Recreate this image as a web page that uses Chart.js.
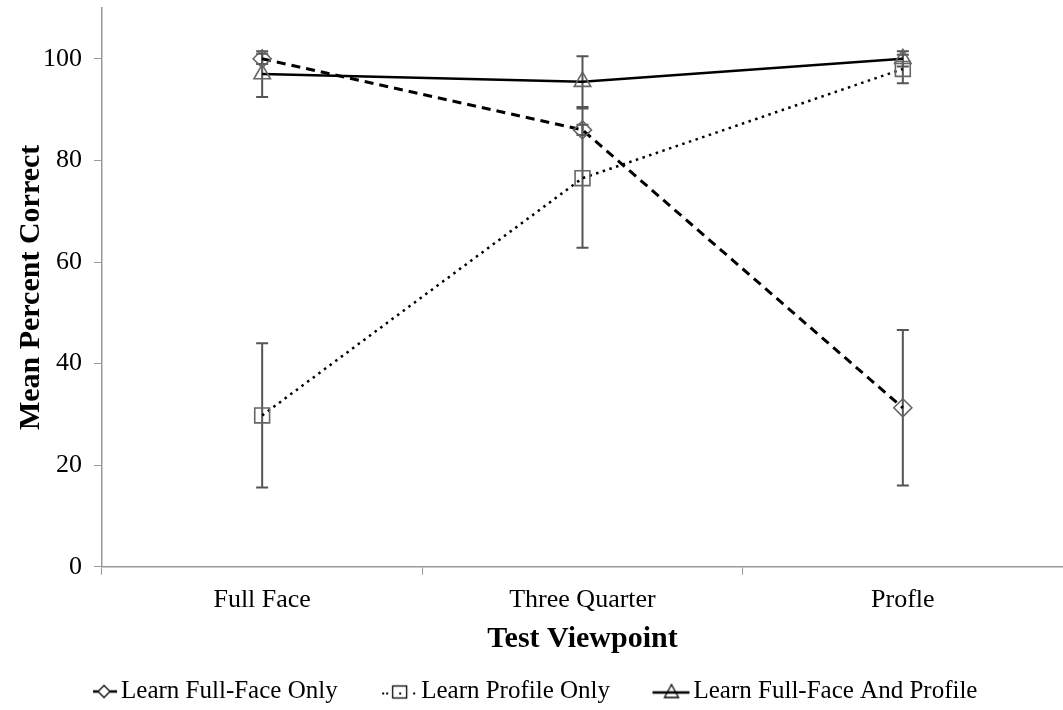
<!DOCTYPE html>
<html>
<head>
<meta charset="utf-8">
<script src="https://cdn.jsdelivr.net/npm/chart.js@4"></script>
<style>
  body { margin: 0; background: #fff; overflow: hidden; }
  #wrap { width: 1063px; height: 710px; }
  canvas { display: block; }
</style>
</head>
<body>
<div id="wrap"><canvas id="viewChart"></canvas></div>
<script>
const viewpoints = ['Full Face', 'Three Quarter', 'Profle'];

const fullFaceOnly = [100, 86, 31.3];
const fullFaceOnlyErr = [1, 1, 15.3];

const profileOnly = [29.8, 76.5, 98];
const profileOnlyErr = [14.2, 13.7, 2.8];

const fullFaceAndProfile = [97, 95.5, 100];
const fullFaceAndProfileErr = [4.5, 5, 1.5];

const yTicks = [0, 20, 40, 60, 80, 100];

const serif = "'Liberation Serif', 'DejaVu Serif', serif";
const markerColor = '#666';

// legend pictures, drawn flush right so they sit next to the text
const ICON_W = 88;
const BOX_W = ICON_W - 19;

function legendIcon(kind) {
    const c = document.createElement('canvas');
    c.width = ICON_W;
    c.height = 18;
    const g = c.getContext('2d');
    const r = ICON_W;
    g.strokeStyle = '#000';
    g.fillStyle = '#000';
    if (kind === 'diamond') {
        g.lineWidth = 2.5;
        g.beginPath(); g.moveTo(r - 25, 9); g.lineTo(r - 20, 9); g.stroke();
        g.beginPath(); g.moveTo(r - 8, 9); g.lineTo(r - 1, 9); g.stroke();
        g.lineWidth = 1.3;
        g.beginPath();
        g.moveTo(r - 14, 3); g.lineTo(r - 8, 9); g.lineTo(r - 14, 15); g.lineTo(r - 20, 9); g.closePath();
        g.stroke();
    } else if (kind === 'square') {
        [r - 36, r - 32, r - 19, r - 5].forEach(x => g.fillRect(x, 10, 2, 2));
        g.lineWidth = 1.3;
        g.strokeRect(r - 25.5, 3.5, 14, 12);
    } else {
        g.lineWidth = 2.5;
        g.beginPath(); g.moveTo(r - 38, 10); g.lineTo(r - 1, 10); g.stroke();
        g.lineWidth = 1.3;
        g.beginPath();
        g.moveTo(r - 19, 2); g.lineTo(r - 12, 15); g.lineTo(r - 26, 15); g.closePath();
        g.stroke();
    }
    return c;
}

const icons = [legendIcon('diamond'), legendIcon('square'), legendIcon('triangle')];

const errorBars = {
    id: 'errorBars',
    beforeDatasetsDraw(chart) {
        const g = chart.ctx;
        const yScale = chart.scales.y;
        g.save();
        g.strokeStyle = '#555';
        g.lineWidth = 2;
        chart.data.datasets.forEach((ds, di) => {
            const meta = chart.getDatasetMeta(di);
            ds.errors.forEach((e, i) => {
                const x = meta.data[i].x;
                const top = yScale.getPixelForValue(ds.data[i] + e);
                const bot = yScale.getPixelForValue(ds.data[i] - e);
                g.beginPath();
                g.moveTo(x, top); g.lineTo(x, bot);
                g.moveTo(x - 6, top); g.lineTo(x + 6, top);
                g.moveTo(x - 6, bot); g.lineTo(x + 6, bot);
                g.stroke();
            });
        });
        g.restore();
    }
};

// nudge the legend row a bit to the left, like in the original
const legendShift = {
    id: 'legendShift',
    afterLayout(chart) {
        chart.legend.left -= 33;
        chart.legend.right -= 33;
    }
};

const viewChart = new Chart(document.getElementById('viewChart'), {
    type: 'line',
    data: {
        labels: viewpoints,
        datasets: [{
            label: 'Learn Full-Face Only',
            data: fullFaceOnly,
            errors: fullFaceOnlyErr,
            borderColor: '#000',
            borderWidth: 3,
            borderDash: [9, 6],
            pointStyle: 'rectRot',
            pointRadius: 9,
            pointBorderColor: markerColor,
            pointBackgroundColor: 'rgba(0,0,0,0)',
            pointBorderWidth: 1.6
        }, {
            label: 'Learn Profile Only',
            data: profileOnly,
            errors: profileOnlyErr,
            borderColor: '#000',
            borderWidth: 2.5,
            borderDash: [2.5, 4.5],
            pointStyle: 'rect',
            pointRadius: 10.5,
            pointBorderColor: markerColor,
            pointBackgroundColor: 'rgba(0,0,0,0)',
            pointBorderWidth: 1.6
        }, {
            label: 'Learn Full-Face And Profile',
            data: fullFaceAndProfile,
            errors: fullFaceAndProfileErr,
            borderColor: '#000',
            borderWidth: 2.5,
            pointStyle: 'triangle',
            pointRadius: 9.5,
            pointBorderColor: markerColor,
            pointBackgroundColor: 'rgba(0,0,0,0)',
            pointBorderWidth: 1.6
        }]
    },
    options: {
        responsive: true,
        maintainAspectRatio: false,
        animation: false,
        layout: { autoPadding: false, padding: { top: 8, right: -4, left: 16, bottom: -4 } },
        plugins: {
            tooltip: { enabled: false },
            legend: {
                position: 'bottom',
                labels: {
                    usePointStyle: true,
                    pointStyleWidth: BOX_W,
                    color: '#000',
                    padding: 2,
                    font: { family: serif, size: 25 },
                    generateLabels(chart) {
                        const items = Chart.defaults.plugins.legend.labels.generateLabels(chart);
                        items.forEach((it, i) => { it.pointStyle = icons[i]; });
                        return items;
                    }
                }
            }
        },
        scales: {
            x: {
                offset: true,
                afterFit(scale) {
                    scale.paddingLeft = 0;
                    scale.paddingRight = 0;
                },
                grid: { offset: true, drawOnChartArea: false, tickLength: 8, color: '#999' },
                border: { color: '#999', width: 1.5 },
                ticks: { color: '#000', font: { family: serif, size: 26 }, padding: 10 },
                title: {
                    display: true,
                    text: 'Test Viewpoint',
                    color: '#000',
                    font: { family: serif, size: 30, weight: 'bold', lineHeight: 1 },
                    padding: { top: -2, bottom: 23 }
                }
            },
            y: {
                min: 0,
                max: 110,
                afterBuildTicks(scale) {
                    scale.ticks = yTicks.map(v => ({ value: v }));
                },
                afterFit(scale) {
                    scale.width = 86;
                    scale.paddingTop = 0;
                    scale.paddingBottom = 0;
                },
                grid: { drawOnChartArea: false, tickLength: 8, color: '#999' },
                border: { color: '#999', width: 1.5 },
                ticks: { color: '#000', font: { family: serif, size: 26 }, padding: 12 },
                title: {
                    display: true,
                    text: 'Mean Percent Correct',
                    color: '#000',
                    font: { family: serif, size: 30, weight: 'bold', lineHeight: 1 },
                    padding: { top: 0, bottom: 0 }
                }
            }
        }
    },
    plugins: [errorBars, legendShift]
});
</script>
</body>
</html>
